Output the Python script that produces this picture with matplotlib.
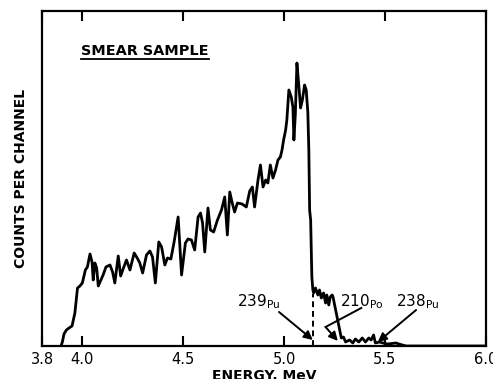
import matplotlib
matplotlib.use("Agg")
import matplotlib.pyplot as plt
import numpy as np

# spectrum: energy (MeV) vs counts (arbitrary units)
energy = [3.894, 3.901, 3.909, 3.921, 3.934, 3.949, 3.963, 3.976, 3.988, 4.000,
          4.015, 4.025, 4.038, 4.048, 4.054, 4.062, 4.071, 4.079, 4.092, 4.103,
          4.117, 4.137, 4.150, 4.161, 4.178, 4.190, 4.202, 4.219, 4.236, 4.257,
          4.272, 4.285, 4.299, 4.318, 4.335, 4.348, 4.362, 4.379, 4.393, 4.409,
          4.422, 4.439, 4.455, 4.475, 4.492, 4.511, 4.524, 4.541, 4.557, 4.574,
          4.586, 4.596, 4.607, 4.623, 4.635, 4.651, 4.670, 4.690, 4.706, 4.719,
          4.731, 4.742, 4.755, 4.769, 4.792, 4.813, 4.830, 4.843, 4.854, 4.871,
          4.883, 4.896, 4.909, 4.920, 4.932, 4.945, 4.958, 4.970, 4.982, 4.990,
          4.998, 5.008, 5.014, 5.024, 5.036, 5.044, 5.049, 5.056, 5.064, 5.074,
          5.082, 5.091, 5.102, 5.110, 5.118, 5.123, 5.127, 5.132, 5.138, 5.143,
          5.147, 5.156, 5.168, 5.176, 5.185, 5.196, 5.206, 5.212, 5.222, 5.229,
          5.239, 5.243, 5.284, 5.295, 5.305, 5.325, 5.341, 5.354, 5.371, 5.388,
          5.404, 5.420, 5.432, 5.444, 5.453, 5.473, 5.490, 5.514, 5.556, 5.569,
          5.605, 6.000]
counts = [0, 4, 12, 16, 18, 20, 33, 58, 60, 63,
          76, 79, 92, 84, 66, 83, 78, 60, 66, 71,
          79, 81, 74, 63, 90, 70, 77, 86, 76, 93,
          88, 83, 73, 91, 95, 89, 63, 104, 99, 81,
          88, 87, 104, 129, 71, 103, 107, 106, 96, 129,
          133, 123, 94, 138, 116, 114, 126, 136, 149, 111,
          154, 144, 134, 143, 142, 139, 155, 159, 139, 166,
          181, 159, 166, 163, 181, 168, 176, 186, 189, 196,
          206, 216, 226, 256, 249, 239, 206, 231, 283, 259,
          238, 246, 261, 256, 234, 196, 136, 126, 69, 56,
          53, 58, 51, 56, 48, 53, 43, 51, 41, 49,
          51, 49, 8, 9, 4, 6, 3, 7, 4, 8,
          4, 8, 6, 11, 3, 4, 3, 2, 3, 2,
          0, 0]

xticks = [3.8, 4.0, 4.5, 5.0, 5.5, 6.0]
xticklabels = ["3.8", "4.0", "4.5", "5.0", "5.5", "6.0"]

pu239_line = 5.145

fig = plt.figure(figsize=(4.93, 3.79), dpi=100)
ax = fig.add_axes([0.0852, 0.0871, 0.9, 0.8839])

ax.plot(energy, counts, color="black", lw=2.0, solid_joinstyle="round")
ax.plot([pu239_line, pu239_line], [0, 52], color="black", lw=1.4, ls=(0, (3, 2)))

ax.set_xlim(3.8, 6.0)
ax.set_ylim(0, 335)
ax.set_xticks(xticks)
ax.set_xticklabels(xticklabels, fontsize=10.5)
ax.set_yticks([])
ax.tick_params(axis="x", direction="in", length=7, width=1.5, top=True, pad=4)
for s in ax.spines.values():
    s.set_linewidth(1.6)

ax.set_xlabel("ENERGY, MeV", fontsize=10, fontweight="bold")
ax.xaxis.set_label_coords(0.5, -0.068)
ax.set_ylabel("COUNTS PER CHANNEL", fontsize=10, fontweight="bold")
ax.yaxis.set_label_coords(-0.031, 0.5)

title = ax.text(0.088, 0.868, "SMEAR SAMPLE", transform=ax.transAxes,
                fontsize=10.4, fontweight="bold", ha="left", va="baseline")

# isotope labels
lab = dict(fontsize=11, ha="center", va="baseline")
ax.text(4.874, 40, r"239$_{\mathregular{Pu}}$", **lab)
ax.text(5.384, 40, r"210$_{\mathregular{Po}}$", **lab)
ax.text(5.661, 40, r"238$_{\mathregular{Pu}}$", **lab)

arr = dict(arrowstyle="-|>", color="black", lw=1.4, mutation_scale=13,
           shrinkA=0, shrinkB=0)
ax.annotate("", xy=(5.143, 6), xytext=(4.975, 34), arrowprops=arr)
ax.plot([5.383, 5.206], [38, 19], color="black", lw=1.4)
ax.annotate("", xy=(5.267, 5), xytext=(5.206, 19), arrowprops=arr)
ax.annotate("", xy=(5.465, 4), xytext=(5.655, 36), arrowprops=arr)

# underline for the title
fig.canvas.draw()
bb = title.get_window_extent()
inv = fig.transFigure.inverted()
x0, y0 = inv.transform((bb.x0, bb.y0 - 1))
x1, _ = inv.transform((bb.x1, bb.y0 - 1))
fig.add_artist(plt.Line2D([x0, x1], [y0, y0], color="black", lw=1.3,
                          transform=fig.transFigure))

fig.savefig("out.png", dpi=100)
